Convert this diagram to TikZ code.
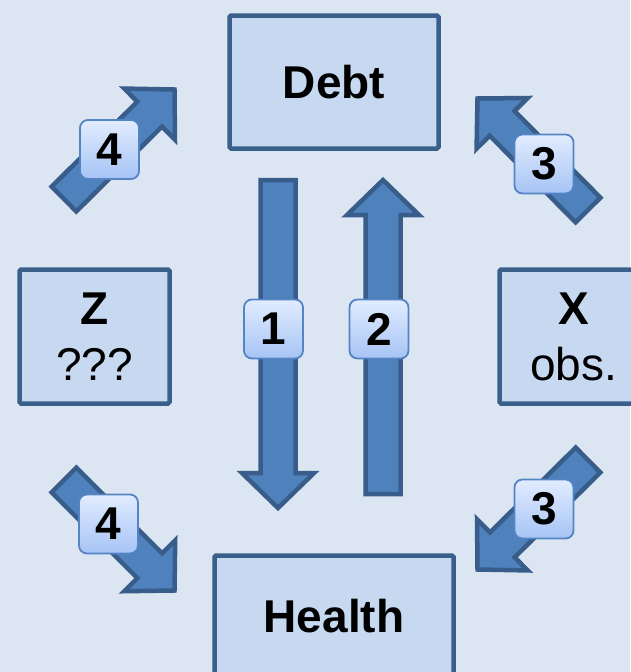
\documentclass[tikz,border=0pt]{standalone}
\usepackage{fontspec}
\setmainfont{Liberation Sans}
\usetikzlibrary{calc}
\definecolor{bgblue}{RGB}{220,230,242}
\definecolor{boxfill}{RGB}{198,217,241}
\definecolor{boxline}{RGB}{58,95,139}
\definecolor{arrfill}{RGB}{79,129,189}
\definecolor{arrline}{RGB}{56,93,138}
\definecolor{badgetop}{RGB}{226,236,255}
\definecolor{badgebot}{RGB}{166,196,245}
\definecolor{badgeline}{RGB}{84,132,196}

% block arrow from #1 (tail) to #2 (tip)
\newcommand{\blockarrow}[2]{%
  \path ($(#2)!35pt!(#1)$) coordinate (hb);
  \draw[blockarr] ($(#1)!17.5pt!90:(#2)$) -- ($(hb)!17.5pt!90:(#2)$)
    -- ($(hb)!36pt!90:(#2)$) -- (#2) -- ($(hb)!36pt!-90:(#2)$)
    -- ($(hb)!17.5pt!-90:(#2)$) -- ($(#1)!17.5pt!-90:(#2)$) -- cycle;}

\begin{document}
\begin{tikzpicture}[x=1pt, y=-1pt,
        varbox/.style={draw=boxline, fill=boxfill, line width=4.5pt, rounded corners=1.5pt,
          inner sep=0pt, align=center, font=\fontsize{46}{56}\selectfont},
        badge/.style={draw=badgeline, line width=1.8pt, rounded corners=8pt,
          top color=badgetop, bottom color=badgebot, minimum size=59pt, inner sep=0pt,
          font=\fontsize{46}{46}\selectfont\bfseries},
        blockarr/.style={draw=arrline, fill=arrfill, line width=4.5pt, line join=miter}]
        \fill[bgblue] (0,0) rectangle (630,672);
        \useasboundingbox (0,0) rectangle (630,672);

        % Boxes
        \node[varbox, minimum width=209pt, minimum height=133pt] (debt) at (334,82) {\textbf{Debt}};
        \node[varbox, minimum width=150pt, minimum height=134pt] (z) at (94.5,336.5) {\textbf{Z}\\???};
        \node[varbox, minimum width=148pt, minimum height=134pt] (x) at (573.5,336.5) {\textbf{X}\\obs.};
        \node[varbox, minimum width=239pt, minimum height=122pt] (health) at (334,616.5) {\textbf{Health}};

        % Arrow ends
        \coordinate (a1 from) at (278,180);
        \coordinate (a1 to) at (278,508);
        \coordinate (a2 from) at (383,494);
        \coordinate (a2 to) at (383,180);
        \coordinate (zd from) at (64,199);
        \coordinate (zd to) at (174.5,89.5);
        \coordinate (xd from) at (588,210);
        \coordinate (xd to) at (477.5,98.5);
        \coordinate (zh from) at (64,480);
        \coordinate (zh to) at (174.5,590.5);
        \coordinate (xh from) at (588,460);
        \coordinate (xh to) at (477.5,569.5);

        % Block arrows
        \blockarrow{a1 from}{a1 to}
        \blockarrow{a2 from}{a2 to}
        \blockarrow{zd from}{zd to}
        \blockarrow{xd from}{xd to}
        \blockarrow{zh from}{zh to}
        \blockarrow{xh from}{xh to}

        % Number badges
        \node[badge] (b1) at (273.5,329) {1};
        \node[badge] (b2) at (379,329) {2};
        \node[badge] (b4a) at (109.5,149.5) {4};
        \node[badge] (b3a) at (544,164) {3};
        \node[badge] (b4b) at (108.5,524) {4};
        \node[badge] (b3b) at (544,509) {3};
\end{tikzpicture}
\end{document}
